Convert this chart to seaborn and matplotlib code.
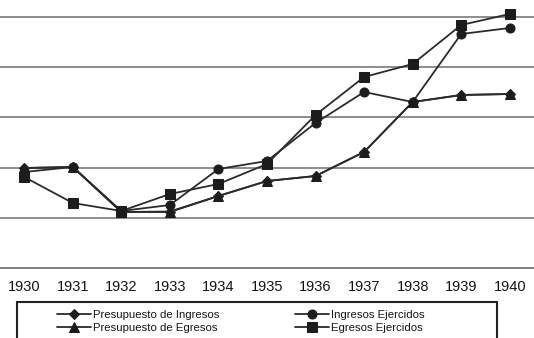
import numpy as np
import pandas as pd
import matplotlib
matplotlib.use("Agg")
import matplotlib.pyplot as plt
from matplotlib.patches import Rectangle
import seaborn as sns

# Años del periodo y series (escala relativa del eje vertical)
years = ["1930", "1931", "1932", "1933", "1934", "1935",
         "1936", "1937", "1938", "1939", "1940"]
presupuesto_ingresos = [1.99, 2.01, 1.11, 1.12, 1.43, 1.73, 1.83, 2.31, 3.31, 3.45, 3.47]
ingresos_ejercidos = [1.91, 2.01, 1.13, 1.25, 1.97, 2.13, 2.89, 3.51, 3.31, 4.67, 4.79]
presupuesto_egresos = [1.99, 2.01, 1.11, 1.11, 1.43, 1.73, 1.83, 2.31, 3.31, 3.45, 3.47]
egresos_ejercidos = [1.81, 1.29, 1.13, 1.47, 1.67, 2.07, 3.05, 3.81, 4.07, 4.85, 5.07]

series_names = ["Presupuesto de Ingresos", "Presupuesto de Egresos",
                "Ingresos Ejercidos", "Egresos Ejercidos"]
series_values = [presupuesto_ingresos, presupuesto_egresos,
                 ingresos_ejercidos, egresos_ejercidos]
series_markers = ["D", "^", "o", "s"]
series_msize = [5.5, 7.0, 6.5, 6.5]

rows = []
for name, vals in zip(series_names, series_values):
    for i, v in enumerate(vals):
        rows.append({"serie": name, "pos": i, "valor": v})
df = pd.DataFrame(rows)

sns.set_style("white")
plt.rcParams["font.family"] = ["Liberation Sans", "DejaVu Sans"]

fig = plt.figure(figsize=(5.34, 3.38), dpi=100)
ax = fig.add_axes([0.0, 70.5 / 338, 1.0, 267.5 / 338])

line_color = "#2b2b2b"
mark_color = "#1c1c1c"

for name, mk, ms in zip(series_names, series_markers, series_msize):
    sub = df[df["serie"] == name]
    sns.lineplot(data=sub, x="pos", y="valor", ax=ax, color=line_color,
                 marker=mk, markersize=ms, markerfacecolor=mark_color,
                 markeredgecolor=mark_color, linewidth=1.3, label=name,
                 legend=False)

ax.set_xlim(-0.46, 10.48)
ax.set_ylim(0, 5.35)

# horizontal gridlines
for gy in [1, 2, 3, 4, 5]:
    ax.axhline(gy, color="#7a7a7a", linewidth=1.2, zorder=0)

for s in ["top", "left", "right"]:
    ax.spines[s].set_visible(False)
ax.spines["bottom"].set_color("#6a6a6a")
ax.spines["bottom"].set_linewidth(1.2)

ax.set_yticks([])
ax.set_xticks(range(len(years)))
ax.set_xticklabels(years, fontsize=10.5, color="#151515")
ax.set_xticks(np.arange(-0.5, 11.0, 1.0), minor=True)
ax.tick_params(axis="x", which="major", length=0, pad=9)
ax.tick_params(axis="x", which="minor", length=3, width=1.0,
               color="#6a6a6a", direction="out")
ax.set_xlabel("")
ax.set_ylabel("")

# legend box, cut off at the lower edge of the figure
box = Rectangle((17 / 534, -0.05), (497 - 17) / 534, (338 - 302) / 338 + 0.05,
                transform=fig.transFigure, fill=False, edgecolor="#222222",
                linewidth=1.5, clip_on=False)
fig.patches.append(box)

handles, labels = ax.get_legend_handles_labels()
order = [labels.index(n) for n in series_names]
leg = fig.legend([handles[i] for i in order], [labels[i] for i in order],
                 loc="upper left", bbox_to_anchor=(51 / 534, (338 - 304) / 338),
                 ncol=2, frameon=False, fontsize=8.2, handlelength=3.0,
                 handletextpad=0.2, columnspacing=6.6, borderpad=0,
                 labelspacing=0.3)
for t in leg.get_texts():
    t.set_color("#151515")

fig.savefig("out.png", dpi=100, facecolor="white")
